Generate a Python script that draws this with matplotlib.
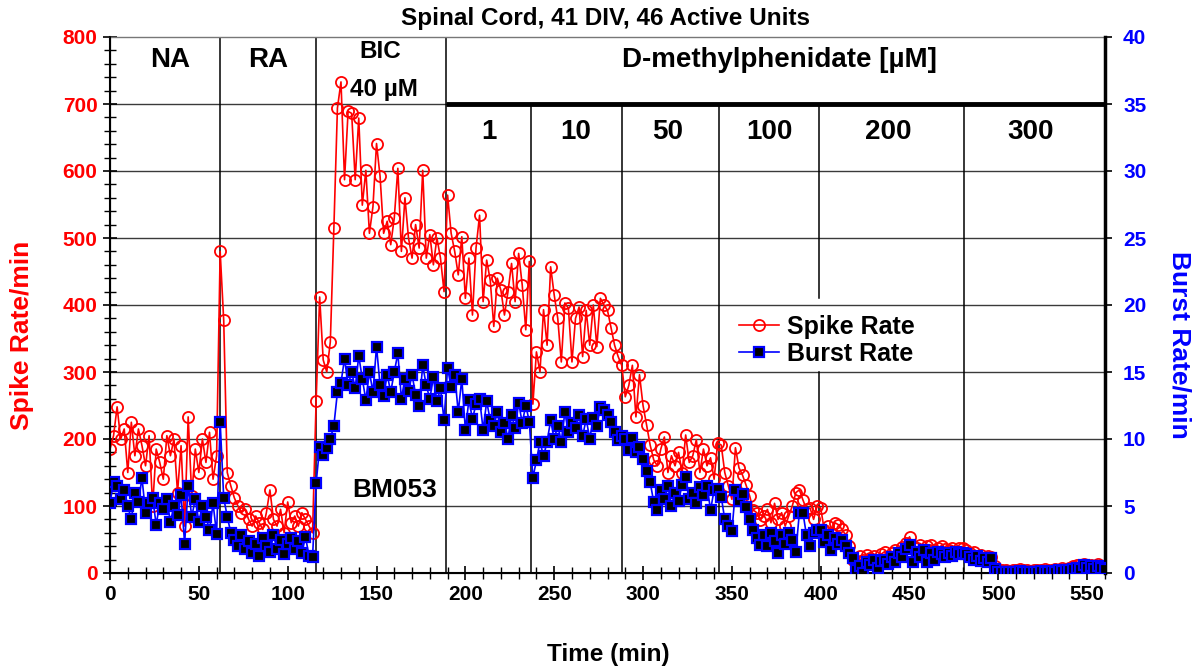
import numpy as np
import matplotlib
matplotlib.use("Agg")
import matplotlib.pyplot as plt
from matplotlib.ticker import MultipleLocator
from matplotlib.lines import Line2D

plt.rcParams['font.family'] = ['Liberation Sans', 'DejaVu Sans']
plt.rcParams['font.weight'] = 'bold'

# ---------------- data (sampled every 2 min, 0..560 min) ----------------
time_step_min = 2

spike_na = [185, 205, 248, 200, 215, 150, 225, 175, 215, 190, 160, 205, 100, 185, 165, 140,
            205, 175, 200, 120, 190, 70, 233, 115, 185, 150, 200, 165, 210, 140, 175, 480, 377]
burst_na = [5.2, 6.8, 6.5, 5.5, 6.2, 5.0, 4.0, 6.0, 5.3, 7.1, 4.5, 5.2, 5.6, 3.6, 5.2, 4.8,
            5.5, 3.8, 5.0, 4.3, 5.8, 2.2, 6.5, 4.2, 5.5, 3.8, 5.0, 4.2, 3.2, 5.2, 2.9, 11.3, 5.6]

spike_ra = [150, 130, 112, 100, 90, 95, 80, 70, 85, 75, 65, 90, 124, 80, 70, 95, 60, 106,
            75, 85, 70, 90, 80, 70, 60, 256]
burst_ra = [4.2, 3.0, 2.5, 2.0, 2.8, 1.8, 2.4, 1.5, 2.2, 1.3, 2.6, 2.0, 1.6, 2.8, 1.8, 2.5,
            1.4, 2.2, 2.6, 1.8, 2.4, 1.5, 2.7, 1.3, 1.2, 6.7]

spike_bic = [412, 318, 300, 345, 515, 694, 733, 587, 689, 686, 587, 679, 549, 601, 507, 547,
             641, 592, 507, 525, 490, 530, 604, 480, 560, 500, 470, 520, 485, 601, 470, 505,
             460, 500, 470, 420, 564]
burst_bic = [9.4, 8.8, 9.3, 10.0, 11.0, 13.5, 14.2, 16.0, 14.0, 15.0, 13.8, 16.2, 14.5, 12.9,
             15.0, 13.5, 16.9, 14.0, 13.2, 14.8, 13.5, 15.0, 16.4, 13.0, 14.5, 13.6, 14.8, 13.3,
             12.5, 15.5, 14.0, 13.0, 14.6, 12.8, 13.8, 11.4, 15.3]

spike_d1 = [507, 480, 445, 502, 410, 470, 385, 485, 534, 405, 467, 437, 368, 440, 422, 385,
            420, 462, 405, 477, 430, 363, 465, 252]
burst_d1 = [13.9, 14.8, 12.0, 14.5, 10.7, 12.9, 11.5, 12.6, 13.0, 10.7, 12.8, 11.4, 11.0, 12.0,
            10.5, 11.2, 10.0, 11.8, 10.8, 12.7, 11.2, 12.5, 11.3, 7.1]

spike_d10 = [330, 300, 393, 340, 457, 415, 380, 315, 403, 395, 315, 380, 397, 323, 392, 340,
             400, 338, 410, 400, 392, 366, 340, 323, 310]
burst_d10 = [8.4, 9.8, 8.7, 9.8, 11.4, 10.0, 11.0, 9.8, 12.0, 10.5, 11.2, 10.8, 11.8, 10.2,
             11.5, 10.0, 11.6, 11.0, 12.4, 12.2, 11.8, 11.3, 10.5, 9.9, 10.2]

spike_d50 = [263, 280, 310, 233, 296, 250, 221, 191, 169, 160, 185, 203, 150, 175, 160, 180,
             150, 206, 165, 175, 199, 150, 185, 160, 172, 140, 194]
burst_d50 = [10.0, 9.2, 10.1, 9.0, 9.4, 8.5, 7.6, 6.8, 5.3, 4.7, 6.2, 5.5, 6.5, 5.0, 6.0, 5.4,
             6.6, 7.2, 5.5, 6.0, 5.2, 6.4, 5.8, 6.5, 4.7, 6.2, 6.3]

spike_d100 = [191, 150, 130, 110, 187, 157, 146, 131, 115, 94, 90, 79, 85, 95, 75, 104, 80, 90,
              70, 85, 100, 120, 124, 109, 95, 97, 80, 100]
burst_d100 = [5.7, 4.0, 3.5, 3.1, 6.2, 5.4, 5.9, 4.9, 4.0, 3.2, 2.6, 2.1, 2.8, 2.0, 3.0, 2.4,
              1.5, 2.8, 2.2, 3.0, 2.5, 1.6, 4.5, 4.5, 2.8, 2.0, 3.0, 3.2]

spike_d200 = [97, 64, 70, 60, 75, 72, 65, 57, 40, 19, 15, 25, 20, 27, 22, 25, 20, 28, 32, 22,
              30, 35, 28, 39, 45, 54, 40, 38, 42, 35, 40, 42, 35, 38, 40, 36, 35, 37, 32, 38, 37]
burst_d200 = [3.2, 2.3, 2.8, 1.7, 2.6, 2.2, 2.5, 2.0, 1.5, 1.1, 0.2, 0.5, 0.0, 0.8, 0.6, 1.0,
              0.4, 0.9, 1.0, 0.7, 1.2, 0.8, 1.5, 1.2, 1.8, 2.1, 0.8, 1.6, 1.2, 1.7, 0.8, 1.5,
              1.0, 1.6, 1.4, 1.2, 1.5, 1.3, 1.6, 1.4, 1.5]

spike_d300 = [35, 30, 32, 25, 27, 22, 25, 24, 10, 5, 4, 5, 3, 5, 4, 6, 4, 5, 3, 5, 4, 5, 6, 4,
              5, 6, 5, 7, 6, 8, 10, 12, 8, 14, 10, 12, 9, 13, 10, 8]
burst_d300 = [1.4, 1.2, 1.0, 1.3, 0.9, 1.1, 0.8, 1.1, 0.3, 0.1, 0.1, 0.1, 0.05, 0.1, 0.1, 0.15,
              0.1, 0.1, 0.05, 0.1, 0.1, 0.15, 0.1, 0.1, 0.15, 0.1, 0.2, 0.15, 0.2, 0.25, 0.3,
              0.4, 0.3, 0.6, 0.4, 0.5, 0.3, 0.5, 0.4, 0.3]

spike_rate = (spike_na + spike_ra + spike_bic + spike_d1 + spike_d10 + spike_d50 +
              spike_d100 + spike_d200 + spike_d300)
burst_rate = (burst_na + burst_ra + burst_bic + burst_d1 + burst_d10 + burst_d50 +
              burst_d100 + burst_d200 + burst_d300)
time_min = np.arange(len(spike_rate)) * time_step_min

phase_labels = ["NA", "RA"]
phase_label_x = [34, 89]
full_dividers = [62, 116, 189]
conc_labels = ["1", "10", "50", "100", "200", "300"]
conc_label_x = [213, 262, 314, 371, 438, 518]
conc_dividers = [237, 288, 342.5, 480.5]
legend_gap_divider = 399

title = "Spinal Cord, 41 DIV, 46 Active Units"

# ---------------- figure ----------------
W, H = 1195, 670
fig = plt.figure(figsize=(W / 100, H / 100), dpi=100)
ax = fig.add_axes([110 / W, 1 - 573 / H, 995 / W, 536 / H])
ax2 = ax.twinx()

ax.set_xlim(0, 560)
ax.set_ylim(0, 800)
ax2.set_ylim(0, 40)

# grid lines
for yv in range(100, 701, 100):
    ax.axhline(yv, color='#3a3a3a', lw=1.0, zorder=1)
for xv in full_dividers:
    ax.plot([xv, xv], [0, 800], color='black', lw=1.1, zorder=1)
for xv in conc_dividers:
    ax.plot([xv, xv], [0, 700], color='black', lw=1.1, zorder=1)
ax.plot([legend_gap_divider] * 2, [0, 300], color='black', lw=1.1, zorder=1)
ax.plot([legend_gap_divider] * 2, [410, 700], color='black', lw=1.1, zorder=1)
ax.plot([189, 560], [700, 700], color='black', lw=3.5, zorder=2, solid_capstyle='butt')

# data
ax.plot(time_min, spike_rate, color='#ff0000', lw=1.2, marker='o', ms=8,
        mfc='none', mec='#ff0000', mew=1.3, zorder=3)
ax2.plot(time_min, burst_rate, color='#0000ff', lw=1.2, marker='s', ms=6.5,
         mfc='black', mec='#0000ff', mew=1.6, zorder=3)

# ticks
ax.xaxis.set_major_locator(MultipleLocator(50))
ax.xaxis.set_minor_locator(MultipleLocator(10))
ax.yaxis.set_major_locator(MultipleLocator(100))
ax.yaxis.set_minor_locator(MultipleLocator(20))
ax2.yaxis.set_major_locator(MultipleLocator(5))
ax.tick_params(axis='x', which='major', direction='inout', length=10, width=1.2,
               labelsize=15, pad=4)
ax.tick_params(axis='x', which='minor', direction='inout', length=8, width=1.0)
ax.tick_params(axis='y', which='major', direction='inout', length=10, width=1.2,
               labelsize=15, labelcolor='#ff0000', pad=4)
ax.tick_params(axis='y', which='minor', direction='inout', length=8, width=1.0)
ax2.tick_params(axis='y', which='major', direction='out', length=5, width=1.2,
                labelsize=15, labelcolor='#0000ff', pad=8)
for lab in ax.get_xticklabels() + ax.get_yticklabels() + ax2.get_yticklabels():
    lab.set_fontweight('bold')

for sp in ['left', 'bottom']:
    ax.spines[sp].set_linewidth(1.5)
ax.spines['top'].set_color('#777777')
ax.spines['top'].set_linewidth(1.0)
ax2.spines['right'].set_linewidth(2.5)
ax2.spines['top'].set_visible(False)

# text annotations
for lab, xv in zip(phase_labels, phase_label_x):
    ax.text(xv, 766, lab, ha='center', va='center', fontsize=20, fontweight='bold', zorder=5)
ax.text(152, 779, "BIC", ha='center', va='center', fontsize=17.5, fontweight='bold', zorder=5)
ax.text(154, 722, "40 µM", ha='center', va='center', fontsize=17.5, fontweight='bold', zorder=5)
ax.text(377, 766, "D-methylphenidate [µM]", ha='center', va='center', fontsize=20,
        fontweight='bold', zorder=5)
for lab, xv in zip(conc_labels, conc_label_x):
    ax.text(xv, 658, lab, ha='center', va='center', fontsize=20, fontweight='bold', zorder=5)
ax.text(160.5, 124, "BM053", ha='center', va='center', fontsize=19, fontweight='bold', zorder=5)

fig.text(606 / W, 1 - 18 / H, title, ha='center', va='center', fontsize=17.5,
         fontweight='bold')
fig.text(608 / W, 1 - 655 / H, "Time (min)", ha='center', va='center', fontsize=17.5,
         fontweight='bold')
fig.text(22 / W, 1 - 335 / H, "Spike Rate/min", ha='center', va='center', rotation=90,
         fontsize=19, fontweight='bold', color='#ff0000')
fig.text(1180 / W, 1 - 345 / H, "Burst Rate/min", ha='center', va='center', rotation=270,
         fontsize=19, fontweight='bold', color='#0000ff')

# legend
handles = [Line2D([], [], color='#ff0000', lw=1.2, marker='o', ms=8, mfc='none',
                  mec='#ff0000', mew=1.3),
           Line2D([], [], color='#0000ff', lw=1.2, marker='s', ms=6.5, mfc='black',
                  mec='#0000ff', mew=1.6)]
leg = ax2.legend(handles, ["Spike Rate", "Burst Rate"], loc='upper left',
                 bbox_to_anchor=(0.62, 0.505), frameon=False,
                 handlelength=1.6, handletextpad=0.3, labelspacing=0.12, borderpad=0,
                 prop={'weight': 'bold', 'size': 18})

fig.savefig("out.png", dpi=100)
